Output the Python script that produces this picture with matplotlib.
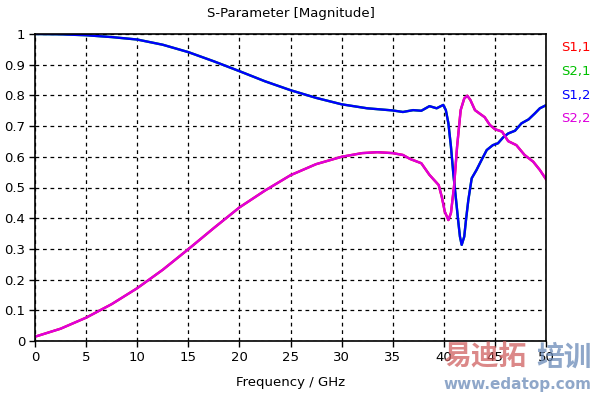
import matplotlib.pyplot as plt

# S-parameter magnitudes
freq_s22 = [0, 2.5, 5, 7.5, 10, 12.5, 15, 17.5, 20, 22.5, 25, 27.5, 30, 32, 33.5, 35,
            36, 36.7, 37.8, 38.6, 39.5, 39.8, 40.1, 40.45, 40.7, 41.0, 41.3, 41.65,
            42.0, 42.3, 42.6, 43.05, 43.5, 44.0, 44.5, 45.0, 45.7, 46.3, 47.1, 47.9,
            48.75, 49.4, 50]
s22 = [0.014, 0.040, 0.076, 0.120, 0.172, 0.232, 0.299, 0.368, 0.435, 0.490, 0.540,
       0.576, 0.600, 0.612, 0.615, 0.612, 0.606, 0.593, 0.579, 0.541, 0.508, 0.470,
       0.421, 0.394, 0.417, 0.503, 0.633, 0.752, 0.790, 0.799, 0.785, 0.752, 0.741,
       0.729, 0.704, 0.690, 0.682, 0.651, 0.638, 0.606, 0.584, 0.557, 0.527]

freq_s12 = [0, 2.5, 5, 7.5, 10, 12.5, 15, 17.5, 20, 22.5, 25, 27.5, 30, 32.5, 35, 36,
            37, 37.8, 38.6, 39.3, 39.95, 40.2, 40.45, 40.7, 40.93, 41.2, 41.4, 41.58,
            41.75, 42.0, 42.17, 42.4, 42.73, 43.2, 43.7, 44.2, 44.8, 45.3, 45.8, 46.3,
            46.97, 47.6, 48.3, 48.9, 49.4, 50]
s12 = [1.0, 0.999, 0.996, 0.990, 0.982, 0.965, 0.941, 0.911, 0.879, 0.846, 0.817,
       0.792, 0.771, 0.758, 0.751, 0.746, 0.752, 0.750, 0.765, 0.758, 0.769, 0.752,
       0.709, 0.633, 0.546, 0.459, 0.394, 0.340, 0.313, 0.340, 0.394, 0.459, 0.530,
       0.557, 0.590, 0.622, 0.638, 0.644, 0.663, 0.676, 0.685, 0.709, 0.722, 0.741,
       0.758, 0.768]

# reciprocal / symmetric structure: S1,1 = S2,2 and S2,1 = S1,2 (hidden underneath)
s11 = s22
s21 = s12

names = ['S1,1', 'S2,1', 'S1,2', 'S2,2']
colors = ['#ff0000', '#00c000', '#0000ff', '#dd00dd']

plt.rcParams['font.family'] = ['DejaVu Sans']

fig = plt.figure(figsize=(5.96, 3.93), dpi=100)
ax = fig.add_axes([35/596, 52/393, 511/596, 307/393])

ax.plot(freq_s22, s11, color=colors[0], lw=1.7)
ax.plot(freq_s12, s21, color=colors[1], lw=1.7)
ax.plot(freq_s12, s12, color=colors[2], lw=1.7)
ax.plot(freq_s22, s22, color=colors[3], lw=1.7)

ax.set_xlim(0, 50)
ax.set_ylim(0, 1)
xt = [0, 5, 10, 15, 20, 25, 30, 35, 40, 45, 50]
yt = [0, 0.1, 0.2, 0.3, 0.4, 0.5, 0.6, 0.7, 0.8, 0.9, 1]
ax.set_xticks(xt, [str(v) for v in xt])
ax.set_yticks(yt, ['0', '0.1', '0.2', '0.3', '0.4', '0.5', '0.6', '0.7', '0.8', '0.9', '1'])
ax.tick_params(direction='out', length=4, width=1, labelsize=9.5, pad=3)
ax.grid(True, color='black', linestyle=(0, (3, 3)), linewidth=0.9)
for s in ax.spines.values():
    s.set_linewidth(1.2)

ax.set_title('S-Parameter [Magnitude]', fontsize=9.5, pad=12)
ax.set_xlabel('Frequency / GHz', fontsize=9.5, labelpad=9)

# legend as coloured labels on the right
for i, (n, c) in enumerate(zip(names, colors)):
    fig.text(561/596, 1 - (48 + 23.5*i)/393, n, color=c, fontsize=9.5, va='center')

# watermark
fig.text(443/596, 1 - 358/393, '易迪拓', color='#d06060', alpha=0.75, fontsize=20,
         fontweight='bold', family=['Noto Sans CJK SC'], va='center')
fig.text(536/596, 1 - 358/393, '培训', color='#6a8ab8', alpha=0.75, fontsize=20,
         fontweight='bold', family=['Noto Sans CJK SC'], va='center')
fig.text(517/596, 1 - 384/393, 'www.edatop.com', color='#6a8ab8', alpha=0.75,
         fontsize=11, fontweight='bold', ha='center', va='center')

fig.savefig('out.png', dpi=100)
